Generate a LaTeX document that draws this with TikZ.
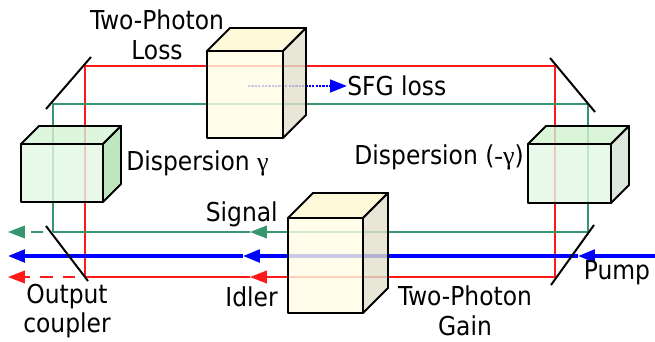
\documentclass[tikz,border=0pt]{standalone}
\usepackage{fontspec}
\setmainfont{DejaVu Sans Condensed}
\newfontfamily\greekfont{Liberation Serif}
\usetikzlibrary{arrows.meta}

\definecolor{idlerred}{RGB}{255,25,25}
\definecolor{signalgreen}{RGB}{55,150,110}
\definecolor{pumpblue}{RGB}{0,0,255}
\definecolor{gainfront}{RGB}{255,253,228}
\definecolor{gaintop}{RGB}{252,247,208}
\definecolor{gainside}{RGB}{226,224,205}
\definecolor{ldispfront}{RGB}{228,248,228}
\definecolor{ldisptop}{RGB}{214,242,214}
\definecolor{ldispside}{RGB}{175,225,175}
\definecolor{rdispfront}{RGB}{228,248,228}
\definecolor{rdisptop}{RGB}{210,242,210}
\definecolor{rdispside}{RGB}{210,226,210}

\tikzstyle{txt} = [font=\fontsize{18.5}{21}\selectfont, align=center, inner sep=0pt]
\tikzstyle{idler} = [idlerred, line width=1.1pt]
\tikzstyle{signal} = [signalgreen, line width=1.1pt]
\tikzstyle{pump} = [pumpblue, line width=2.2pt]
\tikzstyle{mirror} = [black, line width=1.4pt]
\tikzstyle{beamtip} = [-{Triangle[length=12pt,width=9pt]}]
\tikzstyle{leak} = [dash pattern=on 9pt off 7pt, dash phase=9pt]
\tikzstyle{sfg} = [pumpblue, line width=1.6pt, dash pattern=on 1.6pt off 0.8pt]

% crystal: front top-left (#1,#2), width #3, height #4, depth #5, colour set #6
\newcommand{\crystal}[6]{
  \filldraw[fill=#6front, fill opacity=0.8, line width=1.4pt, line join=round]
    (#1,#2) rectangle ++(#3,#4);
  \filldraw[fill=#6top, fill opacity=0.8, line width=1.4pt, line join=round]
    (#1,#2) -- ++(#5,-#5) -- ++(#3,0) -- (#1+#3,#2) -- cycle;
  \filldraw[fill=#6side, fill opacity=0.8, line width=1.4pt, line join=round]
    (#1+#3,#2) -- ++(#5,-#5) -- ++(0,#4) -- (#1+#3,#2+#4) -- cycle;
}

\begin{document}
\begin{tikzpicture}[x=0.025cm, y=-0.025cm]
  \useasboundingbox (0,0) rectangle (655,341);

  %% beam corners
  \coordinate (idlerTL) at (85,66);
  \coordinate (idlerTR) at (555,66);
  \coordinate (idlerBR) at (555,277);
  \coordinate (idlerBL) at (85,277);
  \coordinate (idlerMid) at (250,277);
  \coordinate (idlerOut) at (8,277);
  \coordinate (signalTL) at (53,104);
  \coordinate (signalTR) at (588,104);
  \coordinate (signalBR) at (588,232);
  \coordinate (signalBL) at (53,232);
  \coordinate (signalMid) at (250,232);
  \coordinate (signalOut) at (8,232);
  \coordinate (pumpIn) at (655,256);
  \coordinate (pumpMidR) at (578,256);
  \coordinate (pumpMidL) at (243,256);
  \coordinate (pumpOut) at (8,256);
  \coordinate (sfgStart) at (248,86);

  %% idler loop
  \draw [idler] (idlerBL) -- (idlerTL) -- (idlerTR) -- (idlerBR);
  \draw [idler, beamtip] (idlerBR) -- (idlerMid);
  \draw [idler] (idlerMid) -- (idlerBL);
  \draw [idler, leak, beamtip] (idlerBL) -- (idlerOut);

  %% signal loop
  \draw [signal] (signalBL) -- (signalTL) -- (signalTR) -- (signalBR);
  \draw [signal, beamtip] (signalBR) -- (signalMid);
  \draw [signal] (signalMid) -- (signalBL);
  \draw [signal, leak, beamtip] (signalBL) -- (signalOut);

  %% pump
  \draw [pump, beamtip] (pumpIn) -- (pumpMidR);
  \draw [pump, beamtip] (pumpMidR) -- (pumpMidL);
  \draw [pump, beamtip] (pumpMidL) -- (pumpOut);

  %% sum frequency loss
  \node (sfgtext) [txt, anchor=west] at (347,86) {SFG loss};
  \draw [sfg, beamtip] (sfgStart) -- (sfgtext.west);

  %% crystals
  \crystal{207}{51}{76}{87}{23}{gain}
  \crystal{21}{144}{82}{58}{18}{ldisp}
  \crystal{528}{144}{83}{59}{18}{rdisp}
  \crystal{288}{218}{75}{95}{25}{gain}

  %% mirrors
  \draw [mirror] (46,109) -- (91,57);
  \draw [mirror] (550,58) -- (595,112);
  \draw [mirror] (46,226) -- (88,281);
  \draw [mirror] (594,225) -- (551,285);

  %% labels
  \node (losstext) [txt] at (157,35) {Two-Photon\\Loss};
  \node (disptext) [txt, anchor=west] at (126,163) {Dispersion {\greekfont γ}};
  \node (negdisptext) [txt, anchor=east] at (524,157) {Dispersion ({\greekfont -γ})};
  \node (signaltext) [txt, anchor=east] at (278,214) {Signal};
  \node (idlertext) [txt, anchor=east] at (278,297) {Idler};
  \node (couplertext) [txt] at (67,311) {Output\\coupler};
  \node (gaintext) [txt] at (465,311) {Two-Photon\\Gain};
  \node (pumptext) [txt] at (617,273) {Pump};
\end{tikzpicture}
\end{document}
